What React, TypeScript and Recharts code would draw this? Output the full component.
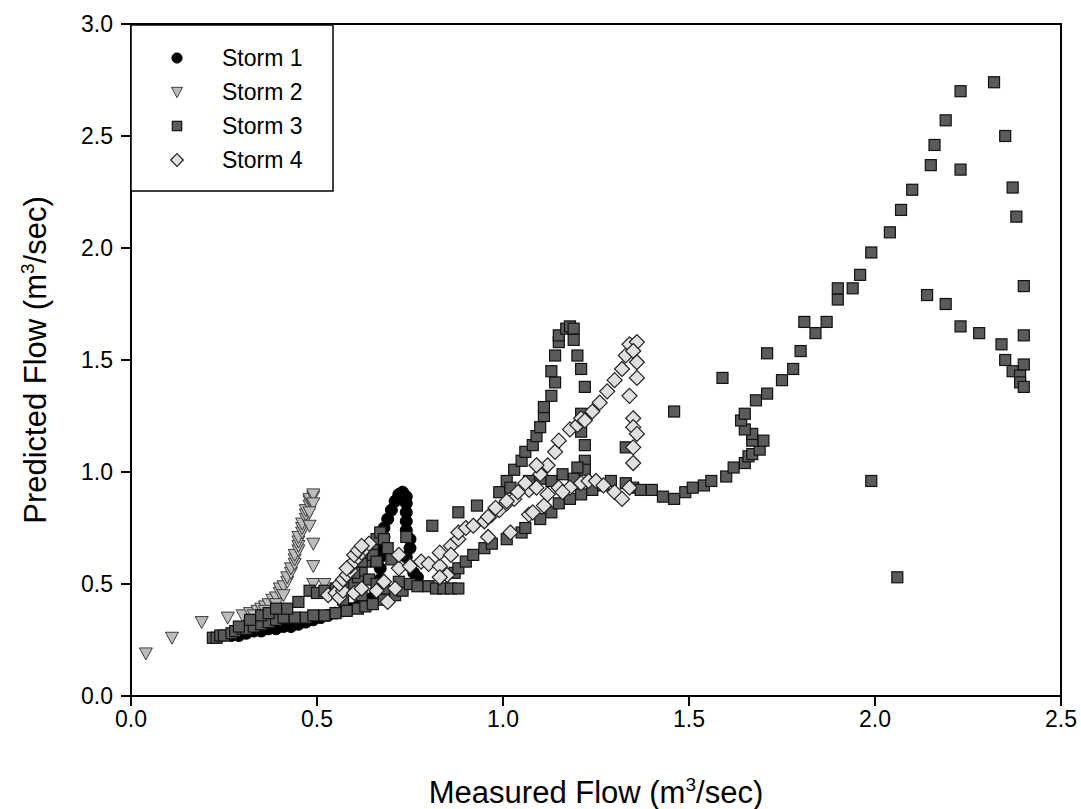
import { ScatterChart, Scatter, XAxis, YAxis, ReferenceArea, Legend } from 'recharts';

type Pt = { x: number; y: number };
const pts = (a: number[][]): Pt[] => a.map(([x, y]) => ({ x, y }));

// Storm 1 - black circles
const storm1 = pts([
  [0.27, 0.27], [0.29, 0.27], [0.31, 0.28], [0.33, 0.29], [0.35, 0.29], [0.37, 0.3],
  [0.39, 0.3], [0.41, 0.31], [0.43, 0.31], [0.45, 0.32], [0.47, 0.33], [0.49, 0.34],
  [0.51, 0.35], [0.53, 0.36], [0.55, 0.37], [0.57, 0.38], [0.59, 0.39], [0.61, 0.4],
  [0.63, 0.42], [0.65, 0.44], [0.66, 0.47], [0.67, 0.52], [0.67, 0.57], [0.67, 0.62],
  [0.67, 0.67], [0.68, 0.71], [0.68, 0.75], [0.69, 0.79], [0.7, 0.83], [0.71, 0.87],
  [0.72, 0.9], [0.73, 0.91], [0.74, 0.89], [0.74, 0.86], [0.74, 0.82], [0.74, 0.78],
  [0.74, 0.74], [0.75, 0.7], [0.75, 0.66], [0.74, 0.62], [0.75, 0.58], [0.76, 0.55],
  [0.77, 0.53],
]);

// Storm 2 - grey triangles
const storm2 = pts([
  [0.04, 0.19], [0.11, 0.26], [0.19, 0.33], [0.26, 0.35], [0.3, 0.36], [0.32, 0.37],
  [0.34, 0.38], [0.35, 0.39], [0.36, 0.4], [0.37, 0.41], [0.38, 0.43], [0.39, 0.44],
  [0.4, 0.46], [0.4, 0.48], [0.41, 0.49], [0.42, 0.51], [0.42, 0.53], [0.43, 0.55],
  [0.43, 0.57], [0.44, 0.59], [0.44, 0.61], [0.44, 0.63], [0.45, 0.65], [0.45, 0.67],
  [0.45, 0.69], [0.45, 0.71], [0.46, 0.73], [0.46, 0.75], [0.46, 0.77], [0.47, 0.79],
  [0.47, 0.81], [0.47, 0.83], [0.48, 0.85], [0.48, 0.87], [0.48, 0.88], [0.49, 0.89],
  [0.49, 0.9], [0.49, 0.86], [0.48, 0.82], [0.48, 0.76], [0.49, 0.68], [0.49, 0.58],
  [0.49, 0.5], [0.52, 0.5], [0.33, 0.36], [0.36, 0.38], [0.39, 0.41], [0.41, 0.45],
]);

// Storm 3 - dark squares
const storm3 = pts([
  [0.22, 0.26], [0.23, 0.26], [0.24, 0.27], [0.25, 0.27], [0.27, 0.28], [0.28, 0.29],
  [0.3, 0.3], [0.31, 0.3], [0.33, 0.31], [0.35, 0.32], [0.37, 0.33], [0.39, 0.34],
  [0.41, 0.35], [0.44, 0.35], [0.47, 0.35], [0.49, 0.36], [0.52, 0.36], [0.55, 0.37],
  [0.58, 0.38], [0.61, 0.39], [0.63, 0.4], [0.65, 0.41], [0.68, 0.43], [0.71, 0.45],
  [0.73, 0.47],
  [0.29, 0.31], [0.32, 0.34], [0.35, 0.36], [0.37, 0.37], [0.39, 0.39], [0.42, 0.39],
  [0.45, 0.42], [0.48, 0.47], [0.5, 0.46], [0.52, 0.47], [0.55, 0.48], [0.58, 0.49],
  [0.6, 0.5], [0.61, 0.53], [0.62, 0.56], [0.63, 0.6], [0.64, 0.64], [0.65, 0.67],
  [0.66, 0.7], [0.67, 0.73], [0.68, 0.7], [0.69, 0.66], [0.7, 0.61], [0.74, 0.71],
  [0.6, 0.55], [0.62, 0.6], [0.63, 0.64], [0.65, 0.63], [0.66, 0.6], [0.64, 0.52],
  [0.66, 0.5], [0.68, 0.48], [0.62, 0.45], [0.57, 0.43],
  [0.72, 0.51], [0.75, 0.5], [0.77, 0.49], [0.8, 0.49], [0.82, 0.48], [0.84, 0.48],
  [0.86, 0.48], [0.88, 0.48],
  [0.81, 0.76], [0.88, 0.82], [0.93, 0.85],
  [0.99, 0.91], [1.01, 0.96], [1.02, 0.93], [1.03, 1.01], [1.05, 1.05], [1.06, 1.09],
  [1.08, 1.12], [1.09, 1.16], [1.1, 1.2], [1.11, 1.25], [1.11, 1.29], [1.13, 1.34],
  [1.14, 1.4], [1.13, 1.45], [1.14, 1.52], [1.15, 1.58], [1.15, 1.61], [1.17, 1.64],
  [1.18, 1.65], [1.19, 1.64], [1.19, 1.59], [1.2, 1.52], [1.21, 1.46], [1.22, 1.38],
  [1.21, 1.26], [1.21, 1.18], [1.22, 1.12], [1.22, 1.05], [1.22, 1.01], [1.2, 1.02],
  [1.19, 0.97], [1.16, 0.99], [1.13, 0.96], [1.1, 0.97], [1.07, 0.96],
  [0.87, 0.55], [0.88, 0.57], [0.9, 0.6], [0.92, 0.63], [0.95, 0.66], [0.97, 0.68],
  [1.01, 0.7], [1.05, 0.73], [1.06, 0.75], [1.1, 0.79], [1.13, 0.82], [1.15, 0.86],
  [1.18, 0.88], [1.21, 0.9], [1.24, 0.92], [1.27, 0.94], [1.29, 0.96], [1.33, 0.95],
  [1.35, 0.93], [1.37, 0.92], [1.4, 0.92], [1.43, 0.89], [1.46, 0.88], [1.49, 0.91],
  [1.51, 0.93], [1.54, 0.94], [1.56, 0.96], [1.6, 0.98], [1.62, 1.02], [1.65, 1.04],
  [1.66, 1.07], [1.67, 1.08], [1.69, 1.1], [1.7, 1.14], [1.67, 1.14], [1.67, 1.17],
  [1.65, 1.19], [1.64, 1.23], [1.65, 1.26], [1.68, 1.32], [1.71, 1.35], [1.75, 1.41],
  [1.78, 1.46], [1.8, 1.54], [1.81, 1.67], [1.71, 1.53], [1.84, 1.62], [1.87, 1.67],
  [1.9, 1.77], [1.9, 1.82], [1.94, 1.82], [1.96, 1.88], [1.99, 1.98], [2.04, 2.07],
  [2.07, 2.17], [2.1, 2.26], [2.15, 2.37], [2.16, 2.46], [2.19, 2.57], [2.23, 2.7],
  [2.32, 2.74], [2.35, 2.5], [2.23, 2.35], [2.37, 2.27], [2.38, 2.14], [2.4, 1.83],
  [2.14, 1.79], [2.19, 1.75], [2.23, 1.65], [2.28, 1.62], [2.34, 1.57], [2.4, 1.61],
  [2.35, 1.5], [2.4, 1.48], [2.37, 1.45], [2.39, 1.43], [2.39, 1.4], [2.4, 1.38],
  [1.99, 0.96], [2.06, 0.53], [1.59, 1.42], [1.46, 1.27], [1.33, 1.11],
]);

// Storm 4 - light diamonds
const storm4 = pts([
  [0.53, 0.45], [0.55, 0.46], [0.56, 0.44], [0.57, 0.47], [0.56, 0.5], [0.57, 0.52],
  [0.58, 0.54], [0.59, 0.56], [0.59, 0.58], [0.6, 0.6], [0.61, 0.62], [0.62, 0.64],
  [0.63, 0.66], [0.64, 0.68], [0.6, 0.46], [0.62, 0.48], [0.66, 0.47], [0.68, 0.51],
  [0.69, 0.42], [0.71, 0.48], [0.72, 0.57], [0.72, 0.63], [0.75, 0.58], [0.78, 0.6],
  [0.8, 0.59], [0.83, 0.58], [0.85, 0.54], [0.83, 0.53], [0.83, 0.64], [0.86, 0.67],
  [0.86, 0.63], [0.88, 0.7], [0.88, 0.73], [0.9, 0.75], [0.92, 0.76], [0.95, 0.78],
  [0.96, 0.71], [0.97, 0.81], [0.99, 0.83], [1.01, 0.86], [1.02, 0.73], [1.03, 0.88],
  [1.07, 0.81], [1.07, 0.92], [1.09, 0.93], [1.1, 0.99], [1.11, 0.85], [1.12, 1.03],
  [1.14, 1.09], [1.15, 1.14], [1.15, 0.93], [1.18, 1.19], [1.18, 0.93], [1.2, 1.21],
  [1.21, 1.24], [1.22, 1.23], [1.24, 1.27], [1.26, 1.31], [1.28, 1.36], [1.3, 1.41],
  [1.32, 1.46], [1.33, 1.52], [1.34, 1.57], [1.36, 1.58], [1.35, 1.54], [1.36, 1.49],
  [1.36, 1.42], [1.34, 1.34], [1.35, 1.24], [1.35, 1.2], [1.36, 1.17], [1.35, 1.11],
  [1.35, 1.04], [1.21, 0.95], [1.23, 0.96], [1.25, 0.96], [1.27, 0.94], [1.3, 0.91],
  [1.32, 0.88], [1.34, 0.93], [1.16, 0.91], [1.12, 0.9], [1.08, 0.82], [1.06, 0.95],
  [1.04, 0.91], [1.01, 0.87], [0.98, 0.84], [0.96, 0.8], [1.09, 1.03],
  [0.58, 0.57], [0.6, 0.63], [0.61, 0.65], [0.62, 0.67],
]);

const SERIES_NAMES = ['Storm 1', 'Storm 2', 'Storm 3', 'Storm 4'];
const X_TICKS = [0, 0.5, 1, 1.5, 2, 2.5];
const Y_TICKS = [0, 0.5, 1, 1.5, 2, 2.5, 3];

const FONT = '"Liberation Sans", Arial, sans-serif';

type Mark = { cx?: number; cy?: number; s?: number };

const Circle = ({ cx = 0, cy = 0, s = 1 }: Mark) => (
  <circle cx={cx} cy={cy} r={6 * s} fill="#000" stroke="#000" strokeWidth={1} />
);

const Triangle = ({ cx = 0, cy = 0, s = 1 }: Mark) => {
  const w = 6.5 * s;
  const h = 5.5 * s;
  return (
    <polygon
      points={`${cx - w},${cy - h} ${cx + w},${cy - h} ${cx},${cy + h + 1}`}
      fill="#bcbcbc"
      stroke="#3c3c3c"
      strokeWidth={1}
    />
  );
};

const Square = ({ cx = 0, cy = 0, s = 1 }: Mark) => {
  const h = 5.5 * s;
  return (
    <rect x={cx - h} y={cy - h} width={2 * h} height={2 * h} fill="#5b5b5b" stroke="#111" strokeWidth={1.2} />
  );
};

const Diamond = ({ cx = 0, cy = 0, s = 1 }: Mark) => {
  const r = 7.5 * s;
  return (
    <polygon
      points={`${cx},${cy - r} ${cx + r},${cy} ${cx},${cy + r} ${cx - r},${cy}`}
      fill="#e0e0e0"
      stroke="#222"
      strokeWidth={1.2}
    />
  );
};

const MARKS = [Circle, Triangle, Square, Diamond];

function LegendBox() {
  return (
    <svg width={204} height={168} style={{ display: 'block' }}>
      <rect x={1} y={1} width={202} height={166} fill="#fff" stroke="#000" strokeWidth={1.5} />
      {SERIES_NAMES.map((name, i) => {
        const Mk = MARKS[i];
        const cy = 34 + i * 34;
        return (
          <g key={name}>
            <Mk cx={47} cy={cy} s={0.85} />
            <text x={92} y={cy + 8} fontSize={23} fontFamily={FONT} fill="#000">
              {name}
            </text>
          </g>
        );
      })}
    </svg>
  );
}

const XTitle = (props: any) => {
  const { x, y, width } = props.viewBox;
  return (
    <text x={x + width / 2} y={y + 107} textAnchor="middle" fontSize={31} fontFamily={FONT} fill="#000">
      Measured Flow (m
      <tspan dy={-12} fontSize={19}>3</tspan>
      <tspan dy={12}>/sec)</tspan>
    </text>
  );
};

const YTitle = (props: any) => {
  const { x, y, height } = props.viewBox;
  const tx = x - 14;
  const ty = y + height / 2;
  return (
    <text
      x={tx}
      y={ty}
      transform={`rotate(-90, ${tx}, ${ty})`}
      textAnchor="middle"
      fontSize={31}
      fontFamily={FONT}
      fill="#000"
    >
      Predicted Flow (m
      <tspan dy={-12} fontSize={19}>3</tspan>
      <tspan dy={12}>/sec)</tspan>
    </text>
  );
};

export default function App() {
  const tickStyle = { fontSize: 23, fill: '#000', fontFamily: FONT };
  return (
    <div style={{ position: 'absolute', left: 0, top: 0, background: '#fff' }}>
      <ScatterChart width={1081} height={809} margin={{ top: 24, right: 20, bottom: 53, left: 60 }}>
        <XAxis
          type="number"
          dataKey="x"
          domain={[0, 2.5]}
          ticks={X_TICKS}
          tickFormatter={(v: number) => v.toFixed(1)}
          tick={tickStyle}
          tickSize={10}
          tickMargin={5}
          height={60}
          axisLine={{ stroke: '#000', strokeWidth: 2 }}
          tickLine={{ stroke: '#000', strokeWidth: 2 }}
          label={{ content: XTitle }}
          allowDataOverflow
        />
        <YAxis
          type="number"
          dataKey="y"
          domain={[0, 3]}
          ticks={Y_TICKS}
          tickFormatter={(v: number) => v.toFixed(1)}
          tick={tickStyle}
          tickSize={10}
          tickMargin={8}
          width={71}
          axisLine={{ stroke: '#000', strokeWidth: 2 }}
          tickLine={{ stroke: '#000', strokeWidth: 2 }}
          label={{ content: YTitle }}
          allowDataOverflow
        />
        <ReferenceArea x1={0} x2={2.5} y1={0} y2={3} fill="none" stroke="#000" strokeWidth={2} />
        <Scatter name="Storm 1" data={storm1} shape={(p: any) => <Circle cx={p.cx} cy={p.cy} />} isAnimationActive={false} />
        <Scatter name="Storm 2" data={storm2} shape={(p: any) => <Triangle cx={p.cx} cy={p.cy} />} isAnimationActive={false} />
        <Scatter name="Storm 3" data={storm3} shape={(p: any) => <Square cx={p.cx} cy={p.cy} />} isAnimationActive={false} />
        <Scatter name="Storm 4" data={storm4} shape={(p: any) => <Diamond cx={p.cx} cy={p.cy} />} isAnimationActive={false} />
        <Legend
          layout="vertical"
          align="center"
          verticalAlign="middle"
          wrapperStyle={{ left: 130, top: 24, width: 204, height: 168 }}
          content={() => <LegendBox />}
        />
      </ScatterChart>
    </div>
  );
}
